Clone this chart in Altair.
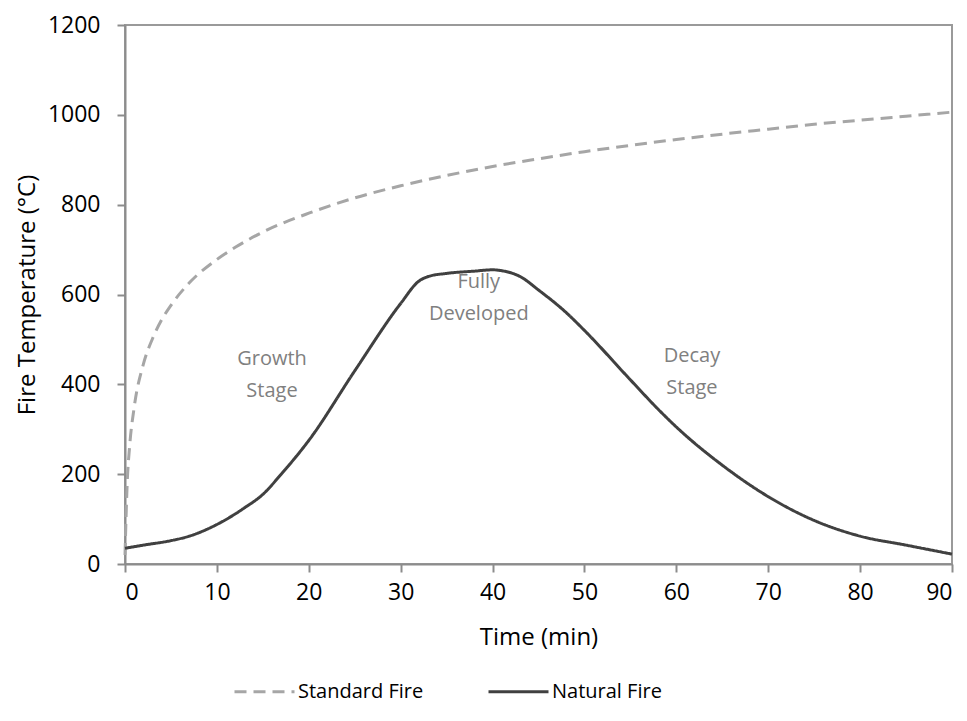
import altair as alt
import pandas as pd

# Standard fire curve
std_time = [0, 0.25, 0.5, 1, 2, 3, 4, 5, 7, 10, 12, 15, 20, 25, 30, 35, 40, 45,
            50, 55, 60, 65, 70, 75, 80, 85, 90]
std_temp = [20, 185, 261, 349, 445, 502, 544, 576, 626, 678, 705, 739, 781, 815,
            842, 865, 885, 902, 918, 932, 945, 957, 968, 979, 988, 997, 1006]

# Natural fire curve
nat_time = [0, 2, 5, 7, 10, 13, 15, 17, 20, 25, 30, 32, 33, 35, 38, 40, 41, 43,
            45, 48, 50, 55, 58, 60, 65, 70, 75, 80, 85, 90]
nat_temp = [35, 42, 52, 62, 88, 125, 155, 200, 275, 430, 580, 630, 640, 647, 652,
            655, 653, 640, 610, 560, 520, 410, 345, 305, 220, 150, 97, 62, 42, 22]

series_names = ["Standard Fire", "Natural Fire"]
series_colors = ["#a6a6a6", "#404040"]

# Stage annotations
ann_text = [["Growth", "Stage"], ["Fully", "Developed"], ["Decay", "Stage"]]
ann_time = [16.0, 38.5, 61.7]
ann_temp = [456, 628, 462]

x_ticks = list(range(0, 91, 10))
y_ticks = list(range(0, 1201, 200))

df = pd.concat([
    pd.DataFrame({"time": std_time, "temp": std_temp, "series": series_names[0]}),
    pd.DataFrame({"time": nat_time, "temp": nat_temp, "series": series_names[1]}),
])
ann = pd.DataFrame({"time": ann_time, "temp": ann_temp, "label": ann_text})

FONT = "Open Sans"

x_scale = alt.Scale(domain=[0, 90], nice=False, zero=False)
y_scale = alt.Scale(domain=[0, 1200], nice=False)

legend_kw = dict(title=None, orient="none", direction="horizontal",
                 legendX=108, legendY=635,
                 symbolType="stroke", symbolSize=3600,
                 symbolStrokeWidth=3, columnPadding=58,
                 labelFontSize=20, labelFont=FONT,
                 labelColor="#000000", labelOffset=2)

lines = alt.Chart(df).mark_line(strokeWidth=3, interpolate="monotone").encode(
    x=alt.X("time:Q", scale=x_scale,
            axis=alt.Axis(title="Time (min)", values=x_ticks, format="d")),
    y=alt.Y("temp:Q", scale=y_scale,
            axis=alt.Axis(title="Fire Temperature (°C)", values=y_ticks, format="d")),
    color=alt.Color("series:N",
                    scale=alt.Scale(domain=series_names, range=series_colors),
                    legend=alt.Legend(**legend_kw)),
    strokeDash=alt.StrokeDash("series:N",
                              scale=alt.Scale(domain=series_names, range=[[12, 7], [1, 0]]),
                              legend=alt.Legend(**legend_kw)),
    detail="series:N",
)

text = alt.Chart(ann).mark_text(fontSize=20, font=FONT, color="#808080",
                                lineHeight=32, align="center", baseline="middle").encode(
    x=alt.X("time:Q", scale=x_scale),
    y=alt.Y("temp:Q", scale=y_scale),
    text="label",
)

chart = alt.layer(lines, text).properties(
    width=827, height=539,
    autosize=alt.AutoSizeParams(type="none"),
    padding={"left": 117, "top": 17, "right": 7, "bottom": 149},
).configure_view(
    stroke="#9a9a9a", strokeWidth=2
).configure_axis(
    grid=False,
    domainColor="#8c8c8c", domainWidth=2,
    tickColor="#8c8c8c", tickWidth=2, tickSize=8,
    labelFont=FONT, labelFontSize=23, labelColor="#000000",
    titleFont=FONT, titleFontWeight="normal", titleColor="#000000",
).configure_axisX(
    labelPadding=9, titlePadding=21, titleFontSize=24,
).configure_axisY(
    labelPadding=17, titlePadding=8, titleFontSize=24,
)

chart.save("out.html", embed_options={"renderer": "svg", "actions": False})
